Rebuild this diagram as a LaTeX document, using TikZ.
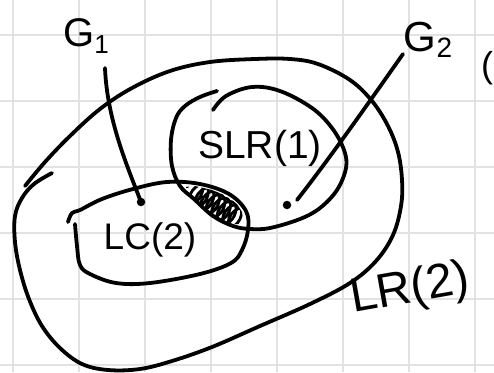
\documentclass[tikz,border=0pt]{standalone}
\usepackage{fontspec}
\setmainfont{Liberation Sans}
\usetikzlibrary{decorations.pathmorphing}
\definecolor{gridgray}{HTML}{E2E2E2}
\begin{document}
\begin{tikzpicture}[x=1pt,y=-1pt,
  ink/.style={line width=3.8pt, line cap=round, line join=round, black},
  gridline/.style={line width=1.8pt, gridgray},
  lbl/.style={inner sep=0pt, anchor=center},
  dotmark/.style={circle, fill=black, inner sep=0pt, minimum size=8.5pt},
  scribble/.style={line width=2.8pt, line cap=round, line join=round, black,
    decorate, decoration={coil, aspect=0.6, segment length=6.5pt, amplitude=11pt}}]
\fill[white] (0,0) rectangle (494,372);
\useasboundingbox (0,0) rectangle (494,372);
% grid paper
\foreach \gx in {13,79,145,211,277,343,409,475}
  \draw[gridline] (\gx,0) -- (\gx,372);
\foreach \gy in {35,101,167,233,299,365}
  \draw[gridline] (0,\gy) -- (494,\gy);

% outer set LR(2)
\draw[ink] plot[smooth, tension=0.6] coordinates {
  (52,173) (34,184) (22,198) (15,216) (15,242) (20,270) (29,299) (42,326)
  (60,348) (82,364) (108,370) (140,369) (172,361) (212,347) (260,326)
  (310,304) (350,283) (376,261) (393,235) (401,206) (402,180) (398,152)
  (388,126) (372,101) (350,80) (318,64) (290,59) (255,59) (210,62)
  (170,71) (132,88) (100,109) (70,136) (45,162) (25,186)};

% SLR(1) set
\draw[ink] plot[smooth, tension=0.6] coordinates {
  (217,91) (200,97) (185,106) (176,118) (171,140) (172,166) (180,186)
  (194,199) (213,216) (233,226) (250,229) (270,228) (300,219) (320,208)
  (337,190) (346,168) (344,150) (332,128) (312,108) (280,91) (252,87)
  (226,96) (213,110)};

% LC(2) set
\draw[ink] plot[smooth, tension=0.6] coordinates {
  (68,222) (72,213) (80,210) (102,199) (133,189) (167,182) (200,184)
  (229,194) (246,211) (248,230) (242,250) (231,263) (200,274) (150,283)
  (116,283) (90,274) (80,265) (77,246) (75,224)};

% hatched intersection
\begin{scope}
  \clip (185,187) -- (195,186) -- (212,190) -- (227,196) -- (237,204)
        -- (242,212) -- (243,220) -- (241,224) -- (232,224) -- (218,218)
        -- (204,207) -- (192,196) -- cycle;
  \draw[scribble] (187,187) -- (246,223);
\end{scope}

% labels
\node[lbl, font=\fontsize{40}{40}\selectfont] (G1) at (86,36)
  {G\raisebox{-7pt}{\fontsize{26}{26}\selectfont 1}};
\node[lbl, font=\fontsize{42}{42}\selectfont] (G2) at (428,40)
  {G\raisebox{-6pt}{\fontsize{28}{28}\selectfont 2}};
\node[lbl, font=\fontsize{39}{39}\selectfont] (slr) at (260,148) {SLR(1)};
\node[lbl, font=\fontsize{37}{37}\selectfont] (lc) at (150,240) {LC(2)};
\node[lbl, font=\fontsize{48}{48}\selectfont, rotate=10] (lr) at (410,290) {LR(2)};
\node[lbl, anchor=west, font=\fontsize{36}{36}\selectfont] (cut) at (481,68) {(};

% grammar pointers
\coordinate (g1s) at (105,68);
\coordinate (g2s) at (403,54);
\coordinate (g2e) at (297,200);
\node[dotmark] (d1) at (141,202) {};
\node[dotmark] (d2) at (287,205) {};
\draw[ink] (g1s) .. controls (107,120) and (128,168) .. (d1.center);
\draw[ink] (g2s) .. controls (372,98) and (330,158) .. (g2e);
\end{tikzpicture}
\end{document}
